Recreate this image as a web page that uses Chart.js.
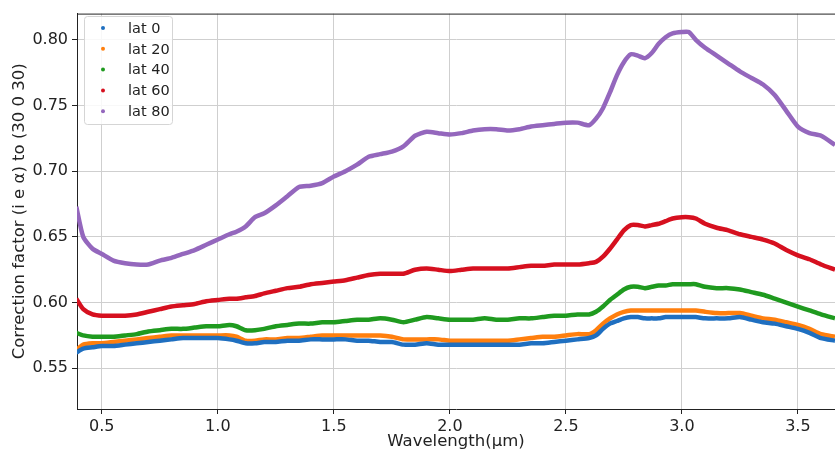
<!DOCTYPE html>
<html>
<head>
<meta charset="utf-8">
<script src="https://cdn.jsdelivr.net/npm/chart.js@4.4.1/dist/chart.umd.min.js"></script>
<style>
  html, body { margin: 0; padding: 0; background: #fff; }
  #wrap { width: 835px; height: 452px; }
</style>
</head>
<body>
<div id="wrap"><canvas id="chart"></canvas></div>
<script>
// wavelength grid (µm) shared by all series
const wavelength = [
  0.39, 0.42, 0.46, 0.50, 0.55, 0.60, 0.65, 0.70, 0.75, 0.80, 0.85, 0.90, 0.95, 1.00,
  1.05, 1.08, 1.12, 1.16, 1.20, 1.25, 1.30, 1.35, 1.40, 1.45, 1.50, 1.55, 1.60, 1.65,
  1.70, 1.75, 1.80, 1.85, 1.90, 1.95, 2.00, 2.05, 2.10, 2.15, 2.20, 2.25, 2.30, 2.35,
  2.40, 2.45, 2.50, 2.55, 2.60, 2.63, 2.66, 2.69, 2.72, 2.75, 2.78, 2.81, 2.84, 2.87,
  2.90, 2.93, 2.96, 3.00, 3.03, 3.06, 3.10, 3.15, 3.20, 3.25, 3.30, 3.35, 3.40, 3.45,
  3.50, 3.55, 3.60, 3.66
];

const lat0 = [
  0.562, 0.565, 0.566, 0.567, 0.567, 0.568, 0.569, 0.570, 0.571, 0.572, 0.573, 0.573, 0.573, 0.573,
  0.572, 0.571, 0.569, 0.569, 0.570, 0.570, 0.571, 0.571, 0.572, 0.572, 0.572, 0.572, 0.571, 0.571,
  0.570, 0.570, 0.568, 0.568, 0.569, 0.568, 0.568, 0.568, 0.568, 0.568, 0.568, 0.568, 0.568, 0.569,
  0.569, 0.570, 0.571, 0.572, 0.573, 0.575, 0.580, 0.584, 0.586, 0.588, 0.589, 0.589, 0.588, 0.588,
  0.588, 0.589, 0.589, 0.589, 0.589, 0.589, 0.588, 0.588, 0.588, 0.589, 0.587, 0.585, 0.584, 0.582,
  0.580, 0.577, 0.573, 0.571
];

const lat20 = [
  0.564, 0.568, 0.569, 0.569, 0.570, 0.571, 0.572, 0.573, 0.574, 0.575, 0.575, 0.575, 0.575, 0.575,
  0.575, 0.574, 0.571, 0.571, 0.572, 0.572, 0.573, 0.573, 0.574, 0.575, 0.575, 0.575, 0.575, 0.575,
  0.575, 0.574, 0.572, 0.572, 0.572, 0.572, 0.571, 0.571, 0.571, 0.571, 0.571, 0.571, 0.572, 0.573,
  0.574, 0.574, 0.575, 0.576, 0.576, 0.579, 0.584, 0.588, 0.591, 0.593, 0.594, 0.594, 0.594, 0.594,
  0.594, 0.594, 0.594, 0.594, 0.594, 0.594, 0.593, 0.592, 0.592, 0.592, 0.590, 0.588, 0.587, 0.585,
  0.583, 0.580, 0.576, 0.574
];

const lat40 = [
  0.577, 0.575, 0.574, 0.574, 0.574, 0.575, 0.576, 0.578, 0.579, 0.580, 0.580, 0.581, 0.582, 0.582,
  0.583, 0.582, 0.579, 0.579, 0.580, 0.582, 0.583, 0.584, 0.584, 0.585, 0.585, 0.586, 0.587, 0.587,
  0.588, 0.587, 0.585, 0.587, 0.589, 0.588, 0.587, 0.587, 0.587, 0.588, 0.587, 0.587, 0.588, 0.588,
  0.589, 0.590, 0.590, 0.591, 0.591, 0.593, 0.597, 0.602, 0.606, 0.610, 0.612, 0.612, 0.611, 0.612,
  0.613, 0.613, 0.614, 0.614, 0.614, 0.614, 0.612, 0.611, 0.611, 0.610, 0.608, 0.606, 0.603, 0.600,
  0.597, 0.594, 0.591, 0.588
];

const lat60 = [
  0.603, 0.595, 0.591, 0.590, 0.590, 0.590, 0.591, 0.593, 0.595, 0.597, 0.598, 0.599, 0.601, 0.602,
  0.603, 0.603, 0.604, 0.605, 0.607, 0.609, 0.611, 0.612, 0.614, 0.615, 0.616, 0.617, 0.619, 0.621,
  0.622, 0.622, 0.622, 0.625, 0.626, 0.625, 0.624, 0.625, 0.626, 0.626, 0.626, 0.626, 0.627, 0.628,
  0.628, 0.629, 0.629, 0.629, 0.630, 0.631, 0.635, 0.641, 0.648, 0.655, 0.659, 0.659, 0.658, 0.659,
  0.660, 0.662, 0.664, 0.665, 0.665, 0.664, 0.660, 0.657, 0.655, 0.652, 0.650, 0.648, 0.645, 0.640,
  0.636, 0.633, 0.629, 0.625
];

const lat80 = [
  0.673, 0.650, 0.641, 0.637, 0.632, 0.630, 0.629, 0.629, 0.632, 0.634, 0.637, 0.640, 0.644, 0.648,
  0.652, 0.654, 0.658, 0.665, 0.668, 0.674, 0.681, 0.688, 0.689, 0.691, 0.696, 0.700, 0.705, 0.711,
  0.713, 0.715, 0.719, 0.727, 0.730, 0.729, 0.728, 0.729, 0.731, 0.732, 0.732, 0.731, 0.732, 0.734,
  0.735, 0.736, 0.737, 0.737, 0.735, 0.740, 0.748, 0.760, 0.773, 0.783, 0.789, 0.788, 0.786, 0.790,
  0.797, 0.802, 0.805, 0.806, 0.806, 0.800, 0.794, 0.788, 0.782, 0.776, 0.771, 0.766, 0.758, 0.746,
  0.734, 0.729, 0.727, 0.720
];

const seriesLabels = ["lat 0", "lat 20", "lat 40", "lat 60", "lat 80"];
const seriesColors = ["#1f6fc0", "#ff7f0e", "#1f9a1f", "#d6101f", "#9467bd"];
const seriesValues = [lat0, lat20, lat40, lat60, lat80];

const xTicks = [0.5, 1.0, 1.5, 2.0, 2.5, 3.0, 3.5];
const yTicks = [0.55, 0.60, 0.65, 0.70, 0.75, 0.80];

const FONT = "DejaVu Sans";
const INK = "#222";

// matplotlib-like legend box inside the axes, plus the top spine
const boxLegend = {
  id: "boxLegend",
  afterDatasetsDraw(chart) {
    const ctx = chart.ctx;
    const a = chart.chartArea;
    ctx.save();
    ctx.strokeStyle = INK;
    ctx.lineWidth = 1;
    ctx.beginPath();
    ctx.moveTo(a.left, a.top + 0.5);
    ctx.lineTo(a.right, a.top + 0.5);
    ctx.stroke();

    const bx = 84, by = 16, bw = 88, bh = 108;
    ctx.fillStyle = "rgba(255,255,255,0.85)";
    ctx.strokeStyle = "#d5d5d5";
    ctx.beginPath();
    ctx.roundRect(bx + 0.5, by + 0.5, bw, bh, 3);
    ctx.fill();
    ctx.stroke();

    ctx.font = "14.5px '" + FONT + "'";
    ctx.textBaseline = "middle";
    chart.data.datasets.forEach((ds, i) => {
      const y = 28 + i * 20.8;
      ctx.fillStyle = ds.borderColor;
      ctx.beginPath();
      ctx.arc(103, y, 2, 0, Math.PI * 2);
      ctx.fill();
      ctx.fillStyle = INK;
      ctx.fillText(ds.label, 128, y + 1);
    });
    ctx.restore();
  }
};

new Chart(document.getElementById("chart"), {
  type: "line",
  data: {
    datasets: seriesLabels.map((label, i) => ({
      label: label,
      data: wavelength.map((w, j) => ({ x: w, y: seriesValues[i][j] })),
      borderColor: seriesColors[i],
      backgroundColor: seriesColors[i],
      borderWidth: 4.5,
      pointRadius: 0,
      tension: 0.2,
      fill: false
    }))
  },
  options: {
    responsive: true,
    maintainAspectRatio: false,
    animation: false,
    layout: { padding: { top: 10, right: 0, left: 0, bottom: 0 } },
    plugins: {
      legend: { display: false },
      tooltip: { enabled: false }
    },
    scales: {
      x: {
        type: "linear",
        min: 0.393,
        max: 3.66,
        afterBuildTicks: (s) => { s.ticks = xTicks.map(v => ({ value: v })); },
        afterFit: (s) => { s.height = 43; },
        ticks: {
          color: INK,
          font: { family: FONT, size: 16 },
          padding: 3,
          maxRotation: 0,
          callback: (v) => v.toFixed(1)
        },
        grid: { color: "#cfcfcf", lineWidth: 1, drawTicks: true, tickLength: 5, tickColor: INK },
        border: { color: INK, width: 1 },
        title: {
          display: true,
          text: "Wavelength(µm)",
          color: INK,
          font: { family: FONT, size: 16.5 },
          padding: { top: 0, bottom: 0 }
        }
      },
      y: {
        type: "linear",
        min: 0.519,
        max: 0.820,
        afterBuildTicks: (s) => { s.ticks = yTicks.map(v => ({ value: v })); },
        afterFit: (s) => { s.width = 77; },
        ticks: {
          color: INK,
          font: { family: FONT, size: 16 },
          padding: 4,
          callback: (v) => v.toFixed(2)
        },
        grid: { color: "#cfcfcf", lineWidth: 1, drawTicks: true, tickLength: 5, tickColor: INK },
        border: { color: INK, width: 1 },
        title: {
          display: true,
          text: "Correction factor (i e α) to (30 0 30)",
          color: INK,
          font: { family: FONT, size: 16.5 },
          padding: { top: 10, bottom: 0 }
        }
      }
    }
  },
  plugins: [boxLegend]
});
</script>
</body>
</html>
